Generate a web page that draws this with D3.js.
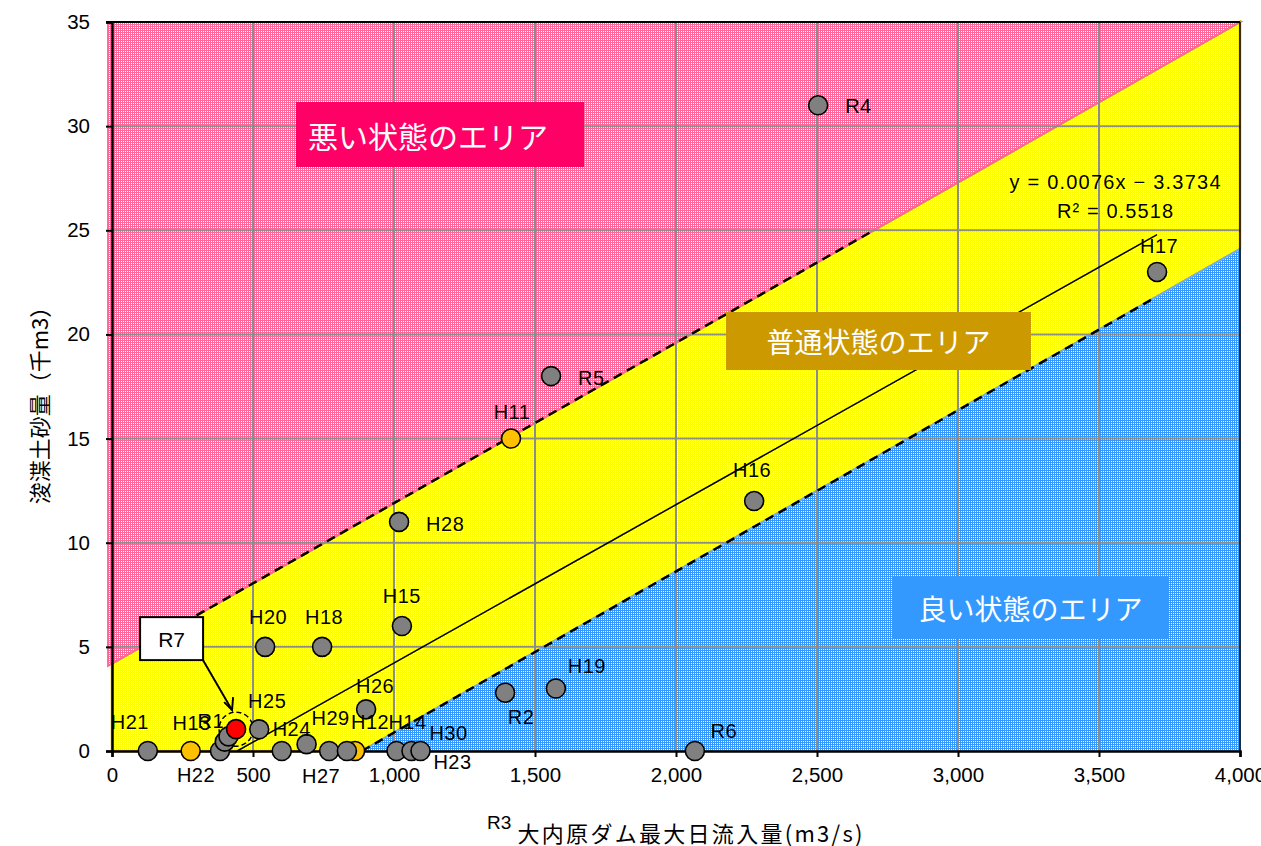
<!DOCTYPE html>
<html><head><meta charset="utf-8">
<script src="https://cdn.jsdelivr.net/npm/d3@7/dist/d3.min.js"></script>
<style>body{margin:0;background:#fff}svg{display:block}</style>
</head><body>
<svg id="chart" width="1261" height="846"></svg>
<script>
// ---------- data ----------
const xTicks = [0, 500, 1000, 1500, 2000, 2500, 3000, 3500, 4000];
const yTicks = [0, 5, 10, 15, 20, 25, 30, 35];
const grayPoints = [
  {name: "R4", x: 2504, y: 31.0},
  {name: "H17", x: 3706, y: 23.0},
  {name: "R5", x: 1557, y: 18.0},
  {name: "H16", x: 2277, y: 12.0},
  {name: "H28", x: 1018, y: 11.0},
  {name: "H15", x: 1028, y: 6.0},
  {name: "H20", x: 543, y: 5.0},
  {name: "H18", x: 745, y: 5.0},
  {name: "H26", x: 901, y: 2.0},
  {name: "R2", x: 1394, y: 2.8},
  {name: "H19", x: 1574, y: 3.0},
  {name: "R6", x: 2067, y: 0},
  {name: "H21", x: 127, y: 0},
  {name: "H22", x: 383, y: 0},
  {name: "R1", x: 400, y: 0.45},
  {name: "", x: 413, y: 0.7},
  {name: "H25", x: 522, y: 1.04},
  {name: "H24", x: 602, y: 0},
  {name: "H29", x: 690, y: 0.33},
  {name: "H27", x: 770, y: 0},
  {name: "", x: 833, y: 0},
  {name: "H14", x: 1009, y: 0},
  {name: "H30", x: 1062, y: 0},
  {name: "H23", x: 1094, y: 0}
];
const orangePoints = [
  {name: "H11", x: 1415, y: 15.0},
  {name: "H13", x: 279, y: 0},
  {name: "H12", x: 862, y: 0}
];
const redPoints = [{name: "R7", x: 440, y: 1.05}];
const regSlope = 0.0076, regIntercept = -3.3734, regR2 = 0.5518;
const regRange = [444, 3706];
const bandUpper = [[-14, 4.09], [0, 4.2], [4000, 35]];
const bandLower = [[886, 0], [4000, 24.1]];
const upperDashRange = [300, 2700];
const lowerDashRange = [886, 3700];
const regionTexts = ["悪い状態のエリア", "普通状態のエリア", "良い状態のエリア"];
const xTitle = "大内原ダム最大日流入量(m3/s)";
const yTitle = "浚渫土砂量（千m3）";
const strayLabel = "R3";

// ---------- layout ----------
const L = 112, R = 1240, T = 22, B = 751;
const x = d3.scaleLinear([0, 4000], [L, R]);
const y = d3.scaleLinear([0, 35], [B, T]);
const svg = d3.select("#chart");
const fontLat = "'Liberation Sans', Arial, 'Noto Sans CJK JP', sans-serif";
const fontJP = "'Noto Sans CJK JP', sans-serif";

// patterns
const defs = svg.append("defs");
function pattern(id, color) {
  const p = defs.append("pattern").attr("id", id).attr("patternUnits", "userSpaceOnUse")
    .attr("width", 2).attr("height", 2);
  p.append("rect").attr("width", 2).attr("height", 2).attr("fill", color);
  p.append("rect").attr("x", 1).attr("y", 1).attr("width", 1).attr("height", 1).attr("fill", "#fff");
}
pattern("pk", "#FF6699");
pattern("yl", "#FFFF00");
pattern("bl", "#3399FF");

const upperAt = v => {
  const [a, b] = [bandUpper[1], bandUpper[2]];
  return a[1] + (v - a[0]) * (b[1] - a[1]) / (b[0] - a[0]);
};
const lowerAt = v => {
  const [a, b] = bandLower;
  return a[1] + (v - a[0]) * (b[1] - a[1]) / (b[0] - a[0]);
};
const line = d3.line().x(d => x(d[0])).y(d => y(d[1]));

// yellow (normal) band
svg.append("path")
  .attr("d", line([[0, bandUpper[1][1]], [4000, 35], [4000, bandLower[1][1]], bandLower[0], [0, 0]]) + "Z")
  .attr("fill", "url(#yl)").attr("stroke", "#E6A800").attr("stroke-width", 2.5);
// pink (bad) area
svg.append("path")
  .attr("d", line([[bandUpper[0][0], 35], [4000, 35], ...bandUpper.slice().reverse()]) + "Z")
  .attr("fill", "url(#pk)").attr("stroke", "#FF6699").attr("stroke-width", 2);
// blue (good) area
svg.append("path")
  .attr("d", line([bandLower[0], bandLower[1], [4000, 0]]) + "Z")
  .attr("fill", "url(#bl)").attr("stroke", "#66B2FF").attr("stroke-width", 2);

// gridlines
svg.append("g").selectAll("line").data(xTicks.filter(d => d > 0 && d < 4000)).join("line")
  .attr("x1", d => x(d)).attr("x2", d => x(d)).attr("y1", T).attr("y2", B)
  .attr("stroke", "#8C8C8C").attr("stroke-width", 2);
svg.append("g").selectAll("line").data(yTicks.filter(d => d > 0 && d < 35)).join("line")
  .attr("y1", d => y(d)).attr("y2", d => y(d)).attr("x1", L).attr("x2", R)
  .attr("stroke", "#8C8C8C").attr("stroke-width", 2);

// dashed band lines
svg.append("path").attr("d", line([[upperDashRange[0], upperAt(upperDashRange[0])], [upperDashRange[1], upperAt(upperDashRange[1])]]))
  .attr("stroke", "#000").attr("stroke-width", 2.5).attr("stroke-dasharray", "9,6").attr("fill", "none");
svg.append("path").attr("d", line([[lowerDashRange[0], lowerAt(lowerDashRange[0])], [lowerDashRange[1], lowerAt(lowerDashRange[1])]]))
  .attr("stroke", "#000").attr("stroke-width", 2.5).attr("stroke-dasharray", "9,6").attr("fill", "none");

// regression line
svg.append("path").attr("d", line(regRange.map(v => [v, regSlope * v + regIntercept])))
  .attr("stroke", "#000").attr("stroke-width", 1.6).attr("fill", "none");

// frame / axes
svg.append("line").attr("x1", L - 6).attr("x2", R).attr("y1", T).attr("y2", T).attr("stroke", "#000").attr("stroke-width", 2);
svg.append("line").attr("x1", R).attr("x2", R).attr("y1", T).attr("y2", B).attr("stroke", "#000").attr("stroke-width", 1.5);
const xAxis = d3.axisBottom(x).tickValues(xTicks).tickSize(6).tickPadding(8)
  .tickFormat(d => d3.format(",")(d));
const gx = svg.append("g").attr("transform", `translate(0,${B})`).call(xAxis);
const yAxis = d3.axisLeft(y).tickValues(yTicks).tickSize(6).tickPadding(16);
const gy = svg.append("g").attr("transform", `translate(${L},0)`).call(yAxis);
[gx, gy].forEach(g => {
  g.select(".domain").attr("stroke", "#000").attr("stroke-width", 2.5);
  g.selectAll(".tick line").attr("stroke", "#000").attr("stroke-width", 2);
  g.selectAll(".tick text").attr("font-family", fontLat).attr("font-size", 20.5).attr("fill", "#000");
});
gx.selectAll(".tick text").attr("dy", "0.85em");

// R7 dashed circle
svg.append("circle").attr("cx", x(redPoints[0].x)).attr("cy", y(redPoints[0].y)).attr("r", 17)
  .attr("fill", "none").attr("stroke", "#000").attr("stroke-width", 1.5).attr("stroke-dasharray", "5,3");

// points
function drawPts(data, fill) {
  svg.append("g").selectAll("circle").data(data).join("circle")
    .attr("cx", d => x(d.x)).attr("cy", d => y(d.y)).attr("r", 9.5)
    .attr("fill", fill).attr("stroke", "#000").attr("stroke-width", 1.6);
}
drawPts(orangePoints, "#FFC000");
drawPts(grayPoints, "#808080");
drawPts(redPoints, "#FF0000");

// point labels (pixel offsets from the marker)
const labelOffsets = {
  R4: [27, 1, "start"], H17: [2, -26, "middle"], R5: [27, 2, "start"], H16: [-2, -31, "middle"],
  H28: [27, 2, "start"], H15: [0, -30, "middle"], H20: [3, -30, "middle"], H18: [2, -30, "middle"],
  H26: [9, -23, "middle"], R2: [16, 24, "middle"], H19: [31, -23, "middle"], R6: [29, -20, "middle"],
  H21: [-18, -29, "middle"], H22: [-24, 24, "middle"], R1: [-14, -21, "middle"], H25: [8, -28, "middle"],
  H24: [10, -22, "middle"], H29: [24, -26, "middle"], H27: [-8, 25, "middle"], H14: [11, -29, "middle"],
  H30: [37, -18, "middle"], H23: [32, 11, "middle"], H11: [1, -27, "middle"], H13: [1, -28, "middle"],
  H12: [15, -29, "middle"]
};
const labeled = grayPoints.concat(orangePoints).filter(d => labelOffsets[d.name]);
svg.append("g").selectAll("text").data(labeled).join("text")
  .attr("x", d => x(d.x) + labelOffsets[d.name][0])
  .attr("y", d => y(d.y) + labelOffsets[d.name][1])
  .attr("text-anchor", d => labelOffsets[d.name][2])
  .attr("dominant-baseline", "central")
  .attr("font-family", fontLat).attr("font-size", 20).attr("letter-spacing", 0.5).attr("fill", "#000")
  .text(d => d.name);

// R7 callout
const rp = redPoints[0];
const cx = x(rp.x), cy = y(rp.y);
svg.append("line").attr("x1", cx - 33).attr("y1", cy - 69).attr("x2", cx - 4).attr("y2", cy - 19)
  .attr("stroke", "#000").attr("stroke-width", 2);
svg.append("path").attr("d", `M${cx - 12},${cy - 27} L${cx - 4},${cy - 19} L${cx - 3},${cy - 32}`)
  .attr("stroke", "#000").attr("stroke-width", 2).attr("fill", "none");
svg.append("rect").attr("x", cx - 96).attr("y", cy - 112).attr("width", 63).attr("height", 43)
  .attr("fill", "#fff").attr("stroke", "#000").attr("stroke-width", 2);
svg.append("text").attr("x", cx - 64.5).attr("y", cy - 90).attr("text-anchor", "middle")
  .attr("dominant-baseline", "central").attr("font-family", fontLat).attr("font-size", 21).text(rp.name);

// region boxes
const regionBoxes = [
  {cx: 440, cy: 134.5, w: 288, h: 65, fill: "#FF0066", tx: 428, fs: 30},
  {cx: 878.5, cy: 341, w: 305, h: 58, fill: "#CC9900", tx: 878.5, fs: 28},
  {cx: 1030.5, cy: 607.5, w: 275, h: 63, fill: "#3399FF", tx: 1030.5, fs: 28}
];
regionTexts.forEach((t, i) => {
  const b = regionBoxes[i];
  svg.append("rect").attr("x", b.cx - b.w / 2).attr("y", b.cy - b.h / 2).attr("width", b.w).attr("height", b.h).attr("fill", b.fill);
  svg.append("text").attr("x", b.tx).attr("y", b.cy).attr("text-anchor", "middle").attr("dominant-baseline", "central")
    .attr("font-family", fontJP).attr("font-size", b.fs).attr("fill", "#fff").text(t);
});

// regression equation
svg.append("text").attr("x", 1115).attr("y", 182).attr("text-anchor", "middle").attr("dominant-baseline", "central")
  .attr("font-family", fontLat).attr("font-size", 20).attr("textLength", 211).attr("lengthAdjust", "spacing")
  .text(`y = ${regSlope}x − ${Math.abs(regIntercept)}`);
svg.append("text").attr("x", 1115).attr("y", 211).attr("text-anchor", "middle").attr("dominant-baseline", "central")
  .attr("font-family", fontLat).attr("font-size", 20).attr("textLength", 116).attr("lengthAdjust", "spacing")
  .text(`R² = ${regR2}`);

// axis titles
svg.append("text").attr("transform", "translate(38,400) rotate(-90)").attr("text-anchor", "middle")
  .attr("dominant-baseline", "central").attr("font-family", fontJP).attr("font-size", 22).text(yTitle);
svg.append("text").attr("x", 690).attr("y", 832).attr("text-anchor", "middle").attr("dominant-baseline", "central")
  .attr("font-family", fontJP).attr("font-size", 22).attr("textLength", 345).attr("lengthAdjust", "spacing").text(xTitle);
svg.append("text").attr("x", 487).attr("y", 822).attr("dominant-baseline", "central")
  .attr("font-family", fontLat).attr("font-size", 19).text(strayLabel);
</script>
</body></html>
